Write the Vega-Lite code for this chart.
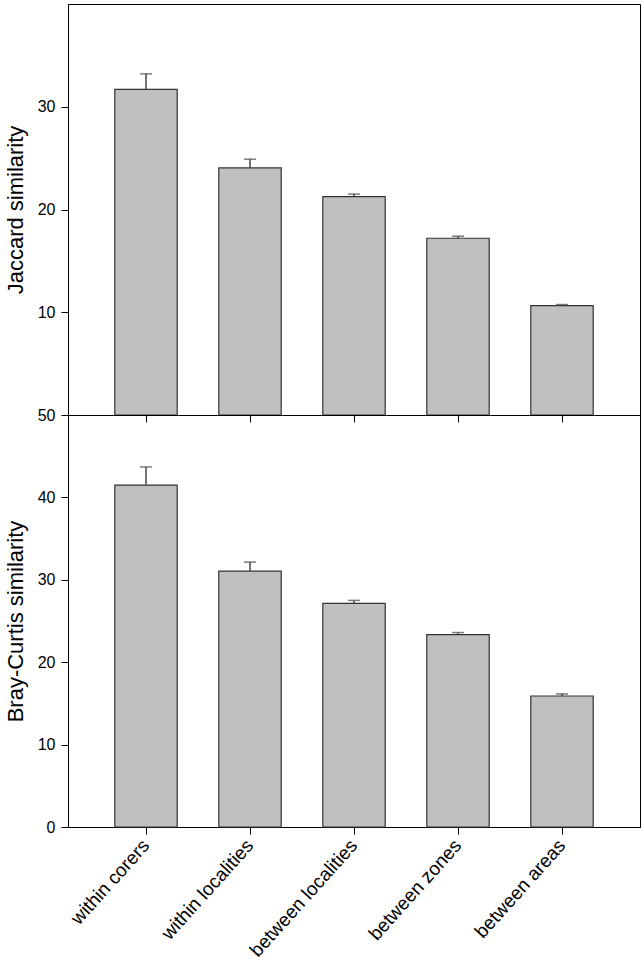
{
  "$schema": "https://vega.github.io/schema/vega-lite/v6.json",
  "padding": {"left": 3, "top": 3, "right": 3, "bottom": 0},
  "background": "white",
  "bounds": "flush",
  "data": {"values": [
    {"cat": "within corers", "jac": 31.7, "jac_up": 33.2, "bc": 41.5, "bc_up": 43.7},
    {"cat": "within localities", "jac": 24.05, "jac_up": 24.9, "bc": 31.05, "bc_up": 32.15},
    {"cat": "between localities", "jac": 21.25, "jac_up": 21.5, "bc": 27.15, "bc_up": 27.5},
    {"cat": "between zones", "jac": 17.2, "jac_up": 17.4, "bc": 23.35, "bc_up": 23.6},
    {"cat": "between areas", "jac": 10.65, "jac_up": 10.75, "bc": 15.9, "bc_up": 16.15}
  ]},
  "spacing": 0,
  "config": {
    "view": {"stroke": "black", "strokeWidth": 1},
    "font": "Liberation Sans",
    "axis": {"domainColor": "black", "tickColor": "black", "labelColor": "black", "titleColor": "black", "labelFontSize": 16, "titleFontSize": 22, "titleFontWeight": "normal", "grid": false, "tickSize": 7, "labelPadding": 6, "labelFont": "Liberation Sans", "titleFont": "Liberation Sans"}
  },
  "vconcat": [
    {
      "width": 572,
      "height": 411,
      "encoding": {
        "x": {"field": "cat", "type": "nominal", "sort": null, "scale": {"paddingInner": 0.4, "paddingOuter": 0.45}, "axis": {"labels": false, "title": null}}
      },
      "layer": [
        {"mark": {"type": "bar", "fill": "#c0c0c0", "stroke": "#333333", "strokeWidth": 1.2},
         "encoding": {"y": {"field": "jac", "type": "quantitative", "scale": {"domain": [0, 40], "nice": false}, "axis": {"values": [10, 20, 30], "title": "Jaccard similarity", "titlePadding": 10}}}},
        {"mark": {"type": "rule", "color": "#444444", "strokeWidth": 1.5},
         "encoding": {"y": {"field": "jac", "type": "quantitative"}, "y2": {"field": "jac_up"}}},
        {"mark": {"type": "tick", "color": "#444444", "size": 12, "thickness": 1.5},
         "encoding": {"y": {"field": "jac_up", "type": "quantitative"}}}
      ]
    },
    {
      "width": 572,
      "height": 412,
      "encoding": {
        "x": {"field": "cat", "type": "nominal", "sort": null, "scale": {"paddingInner": 0.4, "paddingOuter": 0.45}, "axis": {"title": null, "labelAngle": -48, "labelAlign": "right", "labelBaseline": "middle", "labelFontSize": 19, "labelPadding": 8}}
      },
      "layer": [
        {"mark": {"type": "bar", "fill": "#c0c0c0", "stroke": "#333333", "strokeWidth": 1.2},
         "encoding": {"y": {"field": "bc", "type": "quantitative", "scale": {"domain": [0, 50], "nice": false}, "axis": {"values": [0, 10, 20, 30, 40, 50], "title": "Bray-Curtis similarity", "titlePadding": 10}}}},
        {"mark": {"type": "rule", "color": "#444444", "strokeWidth": 1.5},
         "encoding": {"y": {"field": "bc", "type": "quantitative"}, "y2": {"field": "bc_up"}}},
        {"mark": {"type": "tick", "color": "#444444", "size": 12, "thickness": 1.5},
         "encoding": {"y": {"field": "bc_up", "type": "quantitative"}}}
      ]
    }
  ]
}
